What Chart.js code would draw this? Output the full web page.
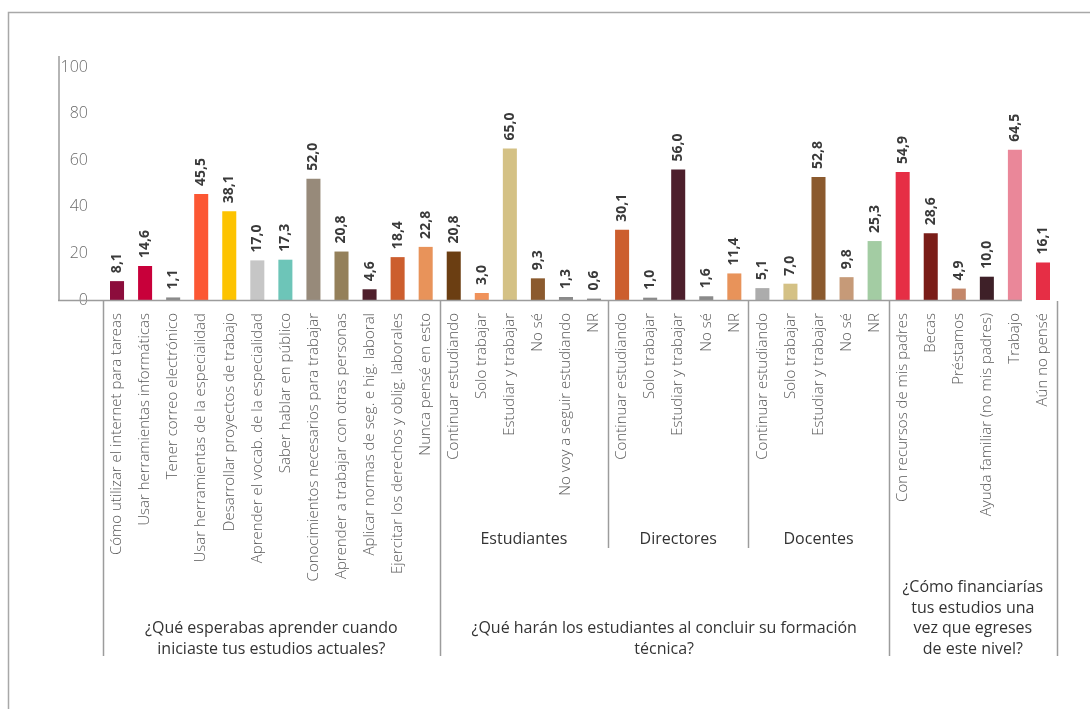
<!DOCTYPE html>
<html>
<head>
<meta charset="utf-8">
<script src="https://cdn.jsdelivr.net/npm/chart.js@4.4.1/dist/chart.umd.min.js"></script>
<style>
  html, body { margin: 0; padding: 0; background: #ffffff; }
  #wrap { width: 1090px; height: 709px; position: relative; }
</style>
</head>
<body>
<div id="wrap"><canvas id="c" width="1090" height="709"></canvas></div>
<script>
// ---- DATA ----
const categories = [
  'Cómo utilizar el internet para tareas',
  'Usar herramientas informáticas',
  'Tener correo electrónico',
  'Usar herramientas de la especialidad',
  'Desarrollar proyectos de trabajo',
  'Aprender el vocab. de la especialidad',
  'Saber hablar en público',
  'Conocimientos necesarios para trabajar',
  'Aprender a trabajar con otras personas',
  'Aplicar normas de seg. e hig. laboral',
  'Ejercitar los derechos y oblig. laborales',
  'Nunca pensé en esto',
  'Continuar estudiando',
  'Solo trabajar',
  'Estudiar y trabajar',
  'No sé',
  'No voy a seguir estudiando',
  'NR',
  'Continuar estudiando',
  'Solo trabajar',
  'Estudiar y trabajar',
  'No sé',
  'NR',
  'Continuar estudiando',
  'Solo trabajar',
  'Estudiar y trabajar',
  'No sé',
  'NR',
  'Con recursos de mis padres',
  'Becas',
  'Préstamos',
  'Ayuda familiar (no mis padres)',
  'Trabajo',
  'Aún no pensé'
];
const values = [
  8.1, 14.6, 1.1, 45.5, 38.1, 17.0, 17.3, 52.0, 20.8, 4.6, 18.4, 22.8,
  20.8, 3.0, 65.0, 9.3, 1.3, 0.6,
  30.1, 1.0, 56.0, 1.6, 11.4,
  5.1, 7.0, 52.8, 9.8, 25.3,
  54.9, 28.6, 4.9, 10.0, 64.5, 16.1
];
const barColors = [
  '#8c0d3c', '#c8003a', '#8a8a8a', '#fc5733', '#fdc300', '#c6c6c6', '#6dc5b8', '#978a7a', '#94805a', '#4f1f2c', '#cc5e2e', '#e8935a',
  '#6b3e12', '#f0925a', '#d4c185', '#8b5a2e', '#8a8a8a', '#8a8a8a',
  '#cc5e2e', '#8a8a8a', '#4d1f2c', '#8a8a8a', '#e8935a',
  '#acacac', '#d4c185', '#8b5a2e', '#c69a78', '#a3cca3',
  '#e62e45', '#7a1d18', '#c3876a', '#3e2028', '#ea8799', '#e62e45'
];
const yTicks = [0, 20, 40, 60, 80, 100];
const groupSizes = [12, 16, 6];
const groupTitles = [
  ['¿Qué esperabas aprender cuando', 'iniciaste tus estudios actuales?'],
  ['¿Qué harán los estudiantes al concluir su formación', 'técnica?'],
  ['¿Cómo financiarías', 'tus estudios una', 'vez que egreses', 'de este nivel?']
];
const subgroupParent = 1;
const subgroupSizes = [6, 5, 5];
const subgroupLabels = ['Estudiantes', 'Directores', 'Docentes'];

// ---- DRAWING ----
const LINE = '#9c9c9c';
const fmt = v => v.toFixed(1).replace('.', ',');

const decor = {
  id: 'decor',
  beforeDraw(chart) {
    const ctx = chart.ctx;
    ctx.save();
    ctx.fillStyle = '#ffffff';
    ctx.fillRect(0, 0, chart.width, chart.height);
    ctx.strokeStyle = '#a8a8a8';
    ctx.lineWidth = 1.5;
    ctx.beginPath();
    ctx.moveTo(8.5, chart.height);
    ctx.lineTo(8.5, 12.5);
    ctx.lineTo(chart.width, 12.5);
    ctx.stroke();
    ctx.restore();
  },
  afterDatasetsDraw(chart) {
    const ctx = chart.ctx;
    const meta = chart.getDatasetMeta(0);
    ctx.save();
    ctx.fillStyle = '#3a3a3a';
    ctx.font = 'bold 14px "Open Sans", "DejaVu Sans", sans-serif';
    ctx.textAlign = 'left';
    ctx.textBaseline = 'middle';
    meta.data.forEach((bar, i) => {
      ctx.save();
      ctx.translate(bar.x, bar.y - 8);
      ctx.rotate(-Math.PI / 2);
      ctx.fillText(fmt(values[i]), 0, 0);
      ctx.restore();
    });
    ctx.restore();
  },
  afterDraw(chart) {
    const ctx = chart.ctx;
    const xs = chart.scales.x;
    const ys = chart.scales.y;
    const y0 = ys.getPixelForValue(0);
    const meta = chart.getDatasetMeta(0);
    const n = categories.length;
    const boundary = i => {
      if (i <= 0) return xs.left;
      if (i >= n) return xs.right;
      return (xs.getPixelForValue(i - 1) + xs.getPixelForValue(i)) / 2;
    };
    ctx.save();
    ctx.strokeStyle = LINE;
    ctx.lineWidth = 1.5;
    ctx.beginPath();
    ctx.moveTo(59, 56);
    ctx.lineTo(59, y0 + 0.5);
    ctx.stroke();
    const last = meta.data[n - 2];
    ctx.beginPath();
    ctx.moveTo(58, y0 + 0.5);
    ctx.lineTo(last.x + last.width / 2, y0 + 0.5);
    ctx.stroke();
    let idx = 0;
    const gb = [0];
    groupSizes.forEach(s => { idx += s; gb.push(idx); });
    gb.forEach(b => {
      const x = Math.round(boundary(b)) + 0.5;
      ctx.beginPath();
      ctx.moveTo(x, y0 + 1);
      ctx.lineTo(x, 656);
      ctx.stroke();
    });
    const subStart = gb[subgroupParent];
    let s = subStart;
    const sb = [s];
    subgroupSizes.forEach(z => { s += z; sb.push(s); });
    sb.slice(1, -1).forEach(b => {
      const x = Math.round(boundary(b)) + 0.5;
      ctx.beginPath();
      ctx.moveTo(x, y0 + 1);
      ctx.lineTo(x, 548);
      ctx.stroke();
    });
    ctx.fillStyle = '#333333';
    ctx.font = '16px "Open Sans", sans-serif';
    ctx.textAlign = 'center';
    ctx.textBaseline = 'middle';
    subgroupLabels.forEach((t, k) => {
      const cx = (boundary(sb[k]) + boundary(sb[k + 1])) / 2;
      ctx.fillText(t, cx, 539);
    });
    groupTitles.forEach((lines, k) => {
      const cx = (boundary(gb[k]) + boundary(gb[k + 1])) / 2;
      const lh = 20.5;
      lines.forEach((t, j) => {
        const y = 649 - (lines.length - 1 - j) * lh;
        ctx.fillText(t, cx, y);
      });
    });
    ctx.restore();
  }
};

new Chart(document.getElementById('c'), {
  type: 'bar',
  data: {
    labels: categories,
    datasets: [{
      data: values,
      backgroundColor: barColors,
      borderWidth: 0,
      barPercentage: 0.5,
      categoryPercentage: 1.0
    }]
  },
  options: {
    responsive: false,
    animation: false,
    devicePixelRatio: 1,
    layout: { padding: { left: 0, right: 33, top: 67, bottom: 0 } },
    plugins: { legend: { display: false }, tooltip: { enabled: false }, title: { display: false } },
    scales: {
      x: {
        type: 'category',
        offset: true,
        grid: { display: false, drawTicks: false },
        border: { display: false },
        ticks: {
          autoSkip: false, minRotation: 90, maxRotation: 90, padding: 13,
          color: '#595959',
          font: { family: '"Open Sans", sans-serif', size: 15, weight: 300 }
        },
        afterFit(s) { s.height = 409; }
      },
      y: {
        min: 0, max: 100,
        afterBuildTicks(s) { s.ticks = yTicks.map(v => ({ value: v })); },
        grid: { display: false, drawTicks: false },
        border: { display: false },
        ticks: {
          padding: 15,
          color: '#6b6b6b',
          font: { family: '"Open Sans", sans-serif', size: 16, weight: 300 }
        },
        afterFit(s) { s.width = 103; }
      }
    }
  },
  plugins: [decor]
});
</script>
</body>
</html>
